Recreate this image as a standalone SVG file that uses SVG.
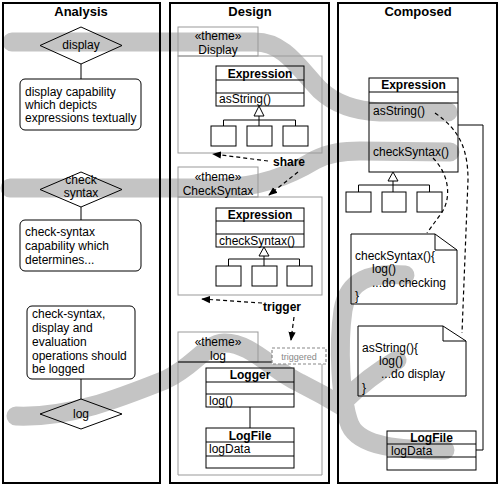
<svg xmlns="http://www.w3.org/2000/svg" width="500" height="485" viewBox="0 0 500 485">
<style>
text{font-family:"Liberation Sans",Arial,sans-serif;font-size:12px;fill:#000}
.t{font-weight:bold;font-size:13px;text-anchor:middle}
.b{font-weight:bold;text-anchor:middle}
.m{text-anchor:middle}
.frame{fill:none;stroke:#000;stroke-width:2}
.box{fill:none;stroke:#000;stroke-width:1}
.theme{fill:none;stroke:#999;stroke-width:1}
.band{fill:none;stroke:#c4c4c4;stroke-width:19;stroke-linecap:round;stroke-linejoin:round}
.dash{fill:none;stroke:#000;stroke-width:1.2;stroke-dasharray:4 3}
.ln{fill:none;stroke:#000;stroke-width:1}
.tri{fill:#fff;stroke:#000;stroke-width:1}
</style>
<defs>
<marker id="ah" viewBox="0 0 10 10" refX="9" refY="5" markerWidth="9" markerHeight="9" markerUnits="userSpaceOnUse" orient="auto">
<path d="M0,1 L10,5 L0,9 Z" fill="#000"/>
</marker>
</defs>

<g id="bands">
<path class="band" d="M12,42 L255,42 C285,42 300,70 320,90 C335,104 355,111 380,112 L448,112"/>
<path class="band" d="M10,188 L215,188 C260,188 290,175 315,160 C330,152 345,151 360,151 L450,152"/>
<path class="band" d="M16,416 C70,418 120,398 165,380 C195,366 205,344 224,343 C250,342 272,370 300,383 C318,392 332,400 345,408"/>
<path class="band" d="M405,275 C370,272 348,280 343,310 C338,345 340,400 350,425 C360,447 400,450 445,450"/>
<path class="band" d="M397,360 C380,370 360,385 345,400"/>
</g>

<g id="frames">
<rect class="frame" x="3" y="3" width="157" height="480"/>
<rect class="frame" x="170" y="3" width="159" height="480"/>
<rect class="frame" x="338" y="3" width="159" height="480"/>
<text class="t" x="81" y="16">Analysis</text>
<text class="t" x="250" y="16">Design</text>
<text class="t" x="418" y="16">Composed</text>
</g>

<g id="a-display">
<path class="box" d="M40,45.5 L81,27 L122,45.5 L81,64 Z"/>
<text class="m" x="81" y="49">display</text>
</g>
<g id="a-display-req">
<rect class="box" x="20" y="79" width="121" height="51" rx="5"/>
<text x="25" y="96">display capability</text>
<text x="25" y="109">which depicts</text>
<text x="25" y="122">expressions textually</text>
</g>
<g id="a-check">
<path class="box" d="M40,189.5 L81,172 L122,189.5 L81,207 Z"/>
<text class="m" x="81" y="184">check</text>
<text class="m" x="81" y="197">syntax</text>
</g>
<g id="a-check-req">
<rect class="box" x="20" y="220" width="121" height="51" rx="5"/>
<text x="25" y="236">check-syntax</text>
<text x="25" y="250">capability which</text>
<text x="25" y="264">determines...</text>
</g>
<g id="a-log-req">
<rect class="box" x="27" y="306" width="108" height="73" rx="5"/>
<text x="32" y="318">check-syntax,</text>
<text x="32" y="332">display and</text>
<text x="32" y="346">evaluation</text>
<text x="32" y="360">operations should</text>
<text x="32" y="373">be logged</text>
</g>
<g id="a-log">
<path class="box" d="M40,414 L81,399 L122,414 L81,429 Z"/>
<text class="m" x="81" y="418">log</text>
</g>

<g id="d-display">
<rect class="theme" x="178" y="27" width="80" height="29"/>
<rect class="theme" x="178" y="56" width="144" height="97"/>
<text class="m" x="218" y="40">«theme»</text>
<text class="m" x="218" y="54">Display</text>
<rect class="box" x="216" y="66" width="88" height="40"/>
<path class="ln" d="M216,80 H304 M216,93 H304"/>
<text class="b" x="260" y="78">Expression</text>
<text x="219" y="103">asString()</text>
<path class="tri" d="M259,106 L264,116 L254,116 Z"/>
<path class="ln" d="M259,116 V126 M223.5,126 V120 H295.5 V126"/>
<rect class="box" x="211" y="126" width="25" height="20"/>
<rect class="box" x="247" y="126" width="25" height="20"/>
<rect class="box" x="283" y="126" width="25" height="20"/>
</g>

<g id="d-check">
<rect class="theme" x="178" y="167" width="80" height="30"/>
<rect class="theme" x="178" y="197" width="144" height="98"/>
<text class="m" x="218" y="181">«theme»</text>
<text class="m" x="218" y="195">CheckSyntax</text>
<rect class="box" x="216" y="208" width="88" height="39"/>
<path class="ln" d="M216,221 H304 M216,234 H304"/>
<text class="b" x="260" y="219">Expression</text>
<text x="219" y="245">checkSyntax()</text>
<path class="tri" d="M264,247 L269,256 L259,256 Z"/>
<path class="ln" d="M264,256 V266 M228.5,266 V259 H299.5 V266"/>
<rect class="box" x="216" y="266" width="25" height="20"/>
<rect class="box" x="252" y="266" width="25" height="20"/>
<rect class="box" x="287" y="266" width="25" height="20"/>
</g>

<g id="d-log">
<rect class="theme" x="178" y="332" width="80" height="30"/>
<path class="theme" d="M322,364 V475 H178 V362"/>
<path class="ln" d="M178,362 H272" stroke="#444"/>
<text class="m" x="218" y="346">«theme»</text>
<text class="m" x="218" y="360">log</text>
<rect x="272" y="348" width="54" height="16" fill="#fff" stroke="#888" stroke-width="1.2" stroke-dasharray="3 2"/>
<text class="m" x="299" y="360" style="font-size:9px;fill:#888">triggered</text>
<rect class="box" x="206" y="368" width="88" height="39"/>
<path class="ln" d="M206,382 H294 M206,394 H294"/>
<text class="b" x="250" y="379">Logger</text>
<text x="209" y="405">log()</text>
<path class="ln" d="M250,407 V428"/>
<rect class="box" x="206" y="428" width="88" height="40"/>
<path class="ln" d="M206,442 H294 M206,456 H294"/>
<text class="b" x="250" y="440">LogFile</text>
<text x="209" y="453">logData</text>
</g>

<g id="c-expression">
<rect class="box" x="369" y="78" width="89" height="94"/>
<path class="ln" d="M369,92 H458 M369,103 H458"/>
<text class="b" x="413.5" y="89">Expression</text>
<text x="373" y="115">asString()</text>
<text x="373" y="156">checkSyntax()</text>
<path class="tri" d="M393,172 L398,181 L388,181 Z"/>
<path class="ln" d="M393,181 V192 M358.5,192 V185 H429.5 V192"/>
<rect class="box" x="346" y="192" width="25" height="20"/>
<rect class="box" x="382" y="192" width="24" height="20"/>
<rect class="box" x="417" y="192" width="25" height="20"/>
</g>
<g id="c-note-check">
<path class="box" d="M351,234 H435 L457,250 V304 H351 Z M435,234 V250 H457"/>
<text x="355" y="260">checkSyntax(){</text>
<text x="372" y="273">log()</text>
<text x="372" y="287">...do checking</text>
<text x="355" y="300">}</text>
</g>
<g id="c-note-as">
<path class="box" d="M358,326 H443 L466,341 V396 H358 Z M443,326 V341 H466"/>
<text x="362" y="352">asString(){</text>
<text x="379" y="365">log()</text>
<text x="381" y="378">...do display</text>
<text x="362" y="392">}</text>
</g>
<g id="c-logfile">
<rect class="box" x="387" y="431" width="89" height="39"/>
<path class="ln" d="M387,444 H476 M387,457 H476"/>
<text class="b" x="431.5" y="442">LogFile</text>
<text x="391" y="455">logData</text>
</g>

<g id="connectors">
<path class="ln" d="M81,64 V79 M81,207 V220 M81,379 V399"/>
<path class="dash" d="M268,161 L213,154" marker-end="url(#ah)"/>
<text class="b" x="289" y="166">share</text>
<path class="dash" d="M298,172 L269,195" marker-end="url(#ah)"/>
<path class="dash" d="M262,303 L202,299" marker-end="url(#ah)"/>
<text class="b" x="282" y="311">trigger</text>
<path class="dash" d="M294,317 L291,340" marker-end="url(#ah)"/>
<path class="ln" d="M458,125 H483 V450 H476"/>
<path class="dash" d="M435,113 C460,130 468,150 468,180 L462,333"/>
<path class="dash" d="M433,158 C450,175 452,200 440,215 L427,233"/>
</g>
</svg>
